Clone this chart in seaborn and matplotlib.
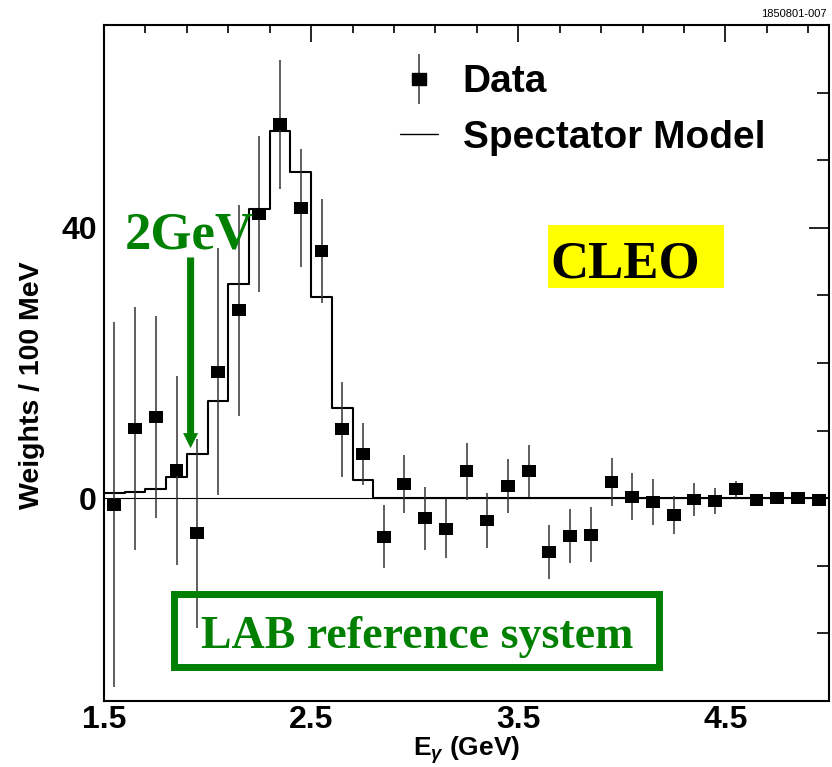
import matplotlib
matplotlib.use("Agg")
import matplotlib.pyplot as plt
import seaborn as sns
from matplotlib.lines import Line2D
from matplotlib.patches import Rectangle
from matplotlib.path import Path
from matplotlib.ticker import MultipleLocator
from matplotlib.legend_handler import HandlerTuple

# photon energy bins (GeV), 100 MeV wide
bin_edges = [1.5, 1.6, 1.7, 1.8, 1.9, 2.0, 2.1, 2.2, 2.3, 2.4, 2.5, 2.6,
             2.7, 2.8, 2.9, 3.0, 3.1, 3.2, 3.3, 3.4, 3.5, 3.6, 3.7, 3.8,
             3.9, 4.0, 4.1, 4.2, 4.3, 4.4, 4.5, 4.6, 4.7, 4.8, 4.9, 5.0]
e_gamma = [1.55, 1.65, 1.75, 1.85, 1.95, 2.05, 2.15, 2.25, 2.35, 2.45, 2.55,
           2.65, 2.75, 2.85, 2.95, 3.05, 3.15, 3.25, 3.35, 3.45, 3.55, 3.65,
           3.75, 3.85, 3.95, 4.05, 4.15, 4.25, 4.35, 4.45, 4.55, 4.65, 4.75,
           4.85, 4.95]

# data points (weights / 100 MeV) and their errors
weights = [-1.0, 10.3, 12.0, 4.1, -5.2, 18.7, 27.8, 42.0, 55.3, 42.9, 36.6,
           10.2, 6.5, -5.7, 2.1, -3.0, -4.5, 4.0, -3.3, 1.8, 4.0, -8.0,
           -5.6, -5.4, 2.4, 0.2, -0.6, -2.5, -0.2, -0.4, 1.3, -0.3, 0.0,
           0.0, -0.3]
errors = [27.0, 18.0, 15.0, 14.0, 14.0, 18.3, 15.6, 11.5, 9.5, 8.7, 7.7,
          7.0, 4.6, 4.7, 4.3, 4.7, 4.4, 4.2, 4.0, 4.0, 3.9, 4.0,
          4.0, 4.1, 3.6, 3.5, 3.4, 2.8, 2.4, 1.9, 1.3, 0.8, 0.6,
          0.6, 0.5]

# spectator model prediction
spectator = [0.7, 0.9, 1.3, 3.1, 6.5, 14.3, 31.7, 42.7, 54.3, 48.3, 29.8,
             13.4, 2.7, 0, 0, 0, 0, 0, 0, 0, 0, 0,
             0, 0, 0, 0, 0, 0, 0, 0, 0, 0, 0,
             0, 0]

sns.set_style("white")
plt.rcParams["font.family"] = ["Liberation Sans", "DejaVu Sans"]
plt.rcParams["font.weight"] = "bold"
plt.rcParams["axes.labelweight"] = "bold"
plt.rcParams["text.color"] = "black"
plt.rcParams["axes.labelcolor"] = "black"
plt.rcParams["xtick.color"] = "black"
plt.rcParams["ytick.color"] = "black"
plt.rcParams["mathtext.fontset"] = "custom"
plt.rcParams["mathtext.bf"] = "Liberation Sans:bold"
plt.rcParams["mathtext.rm"] = "Liberation Sans:bold"
plt.rcParams["mathtext.it"] = "Liberation Sans:italic"

serif = ["Liberation Serif", "DejaVu Serif"]
green = "#008000"

fig = plt.figure(figsize=(8.32, 7.67), dpi=100)
ax = fig.add_axes([0.125, 0.0861, 0.8714, 0.8814])

# slightly wide square marker, like the original
box = Path([(-7, -6), (7, -6), (7, 6), (-7, 6), (-7, -6)], closed=True)

ax.axhline(0, color="black", lw=0.8, zorder=1)
sns.histplot(x=e_gamma, weights=spectator, bins=bin_edges, element="step",
             fill=False, color="black", linewidth=1.5, ax=ax, zorder=2)
ax.errorbar(e_gamma, weights, yerr=errors, fmt="none", ecolor="#333333",
            elinewidth=1.1, capsize=0, zorder=3)
sns.scatterplot(x=e_gamma, y=weights, marker=box, s=100, color="black",
                edgecolor="none", linewidth=0, zorder=4, ax=ax)

ax.set_xlim(1.5, 5.0)
ax.set_ylim(-30, 70)
ax.xaxis.set_major_locator(MultipleLocator(1.0, offset=0.5))
ax.xaxis.set_minor_locator(MultipleLocator(0.2, offset=0.1))
ax.yaxis.set_major_locator(MultipleLocator(40))
ax.yaxis.set_minor_locator(MultipleLocator(10))
ax.tick_params(which="both", direction="in", top=True, right=True,
               width=1.2, color="black", labelsize=23, pad=5)
ax.tick_params(axis="x", which="major", length=12.5, pad=3)
ax.tick_params(axis="x", which="minor", length=6)
ax.tick_params(axis="y", which="major", length=14.5)
ax.tick_params(axis="y", which="minor", length=8.6)
for sp in ax.spines.values():
    sp.set_linewidth(1.5)
    sp.set_color("black")

ax.set_ylabel("Weights / 100 MeV", fontsize=20.5, fontweight="bold")
ax.yaxis.set_label_coords(-0.081, 0.467)
ax.set_xlabel(r"$\mathbf{E}_{\gamma}$ (GeV)", fontsize=19, fontweight="bold",
              va="bottom")
ax.xaxis.set_label_coords(0.5, -0.0955)

# legend
data_marker = Line2D([], [], marker=box, ms=10, color="black", ls="none")
data_bar = Line2D([], [], marker="|", ms=36, mew=1.1, color="#333333", ls="none")
model_line = Line2D([], [], color="black", lw=1.0)
ax.legend([(data_bar, data_marker), model_line], ["Data", "Spectator Model"],
          handler_map={tuple: HandlerTuple(ndivide=1)},
          loc="upper left", bbox_to_anchor=(0.408, 0.942), frameon=False,
          fontsize=28, handlelength=0.98, handletextpad=0.64,
          labelspacing=0.5, borderpad=0, borderaxespad=0)

# annotations
ax.annotate("", xy=(1.918, 7.4), xytext=(1.918, 35.6),
            arrowprops=dict(arrowstyle="simple,head_length=1.0,head_width=1.0,tail_width=0.47",
                            mutation_scale=10.8, color=green, lw=0,
                            shrinkA=0, shrinkB=0), zorder=6)
ax.text(1.913, 37.0, "2GeV", color=green, fontsize=38, family=serif,
        ha="center", va="baseline", zorder=6)

ax.add_patch(Rectangle((3.644, 31.1), 0.851, 9.3, facecolor="yellow",
                       edgecolor="none", zorder=5))
ax.text(3.654, 32.6, "CLEO", color="black", fontsize=38, family=serif,
        ha="left", va="baseline", zorder=6)

ax.add_patch(Rectangle((1.839, -24.96), 2.341, 10.81, fill=False,
                       edgecolor=green, lw=5, zorder=5))
ax.text(3.01, -22.2, "LAB reference system", color=green, fontsize=33,
        family=serif, ha="center", va="baseline", zorder=6)

fig.text(0.993, 0.982, "1850801-007", fontsize=8, weight="normal",
         ha="right", va="center")

fig.savefig("out.png", dpi=100)
